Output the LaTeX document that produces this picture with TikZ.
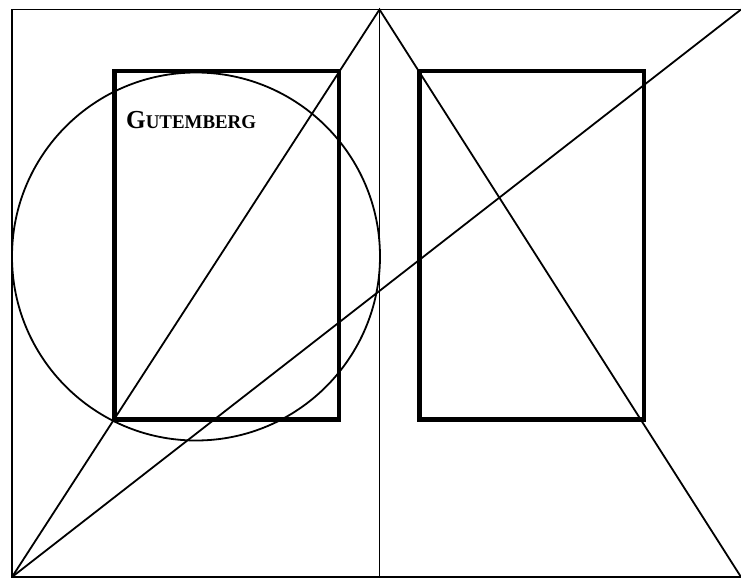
\documentclass[tikz,border=0pt]{standalone}
\usepackage{fontspec}
\setmainfont{Liberation Serif}
\usepackage{graphicx}

\begin{document}
\begin{tikzpicture}[x=1pt, y=-1pt,
      guide/.style={line width=1.8pt, black},
      block/.style={line width=4.8pt, black},
      caption/.style={anchor=base west, inner sep=0pt, font=\bfseries}]
    \useasboundingbox (0,0) rectangle (741,578);
    \coordinate (nw) at (12,9.5);
    \coordinate (sw) at (12,577);
    \coordinate (n) at (379.5,9.5);
    \coordinate (s) at (379.5,577);
    \coordinate (ne) at (741,9.5);
    \coordinate (se) at (741,577);
    \coordinate (ctr) at (196,256.5);
    \draw[guide] (ne) -- (nw) -- (sw) -- (se);
    \draw[guide] (n) -- (s);
    \draw[block] (114.5,71) rectangle (339,419.5);
    \draw[block] (419.5,71) rectangle (644,419.5);
    \draw[guide] (ctr) circle (184pt);
    \draw[guide] (sw) -- (n) -- (se);
    \draw[guide] (sw) -- (ne);
    \node[caption] (title) at (126,128.5)
      {\scalebox{1.05}[1.08]{{\fontsize{24}{25}\selectfont G}{\fontsize{18}{19}\selectfont UTEMBERG}}};
  \end{tikzpicture}
\end{document}
